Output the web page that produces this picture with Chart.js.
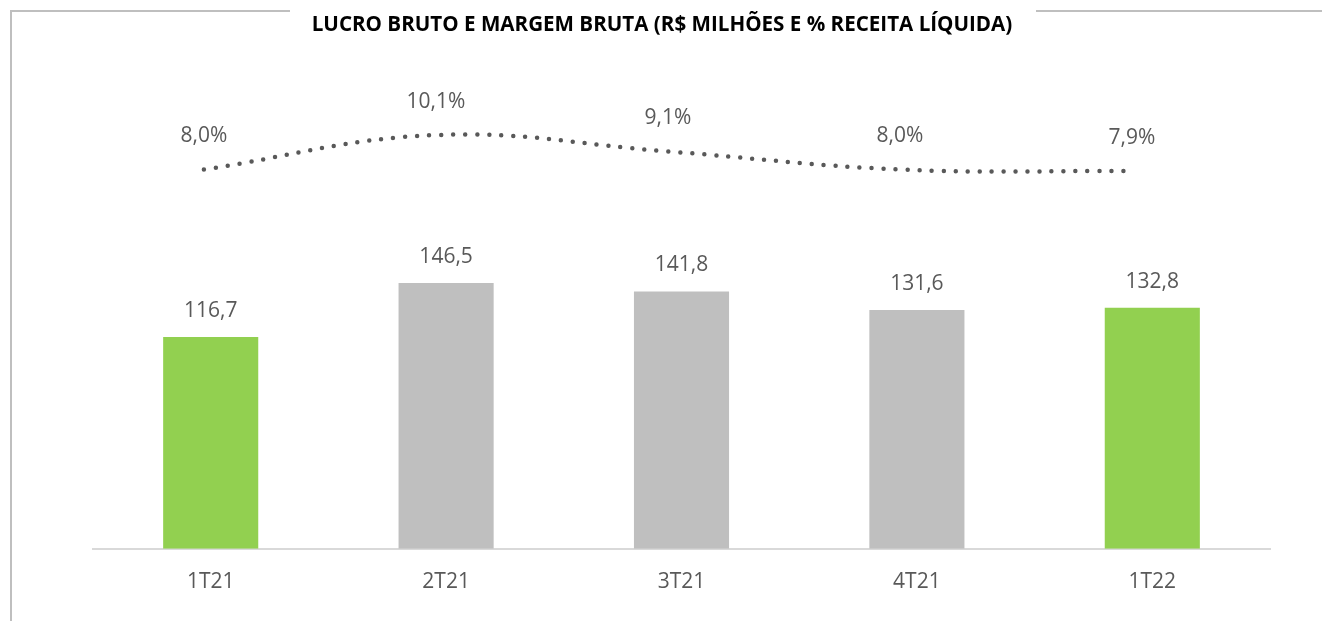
<!DOCTYPE html>
<html>
<head>
<meta charset="utf-8">
<script src="https://cdn.jsdelivr.net/npm/chart.js@4"></script>
<style>
  html, body { margin: 0; padding: 0; background: #fff; }
  #wrap { width: 1322px; height: 621px; }
</style>
</head>
<body>
<div id="wrap"><canvas id="chart" width="1322" height="621"></canvas></div>
<script>
// --- Data ---
const quarters = ['1T21', '2T21', '3T21', '4T21', '1T22']
const grossProfit = [116.7, 146.5, 141.8, 131.6, 132.8]   // R$ milhões
const grossMargin = [8.0, 10.1, 9.1, 8.0, 7.9]            // % receita líquida
const barColors = ['#92D050', '#BFBFBF', '#BFBFBF', '#BFBFBF', '#92D050']
const chartTitle = 'LUCRO BRUTO E MARGEM BRUTA (R$ MILHÕES E % RECEITA LÍQUIDA)'

const TEXT = '#595959'
const FONT = '"Open Sans", "Noto Sans", sans-serif'

const fmt = (v, d) => v.toFixed(d).replace('.', ',')

// frame lines + title (frame is broken where the title sits)
const frameAndTitle = {
  id: 'frameAndTitle',
  beforeDraw(chart) {
    const ctx = chart.ctx
    ctx.save()
    ctx.strokeStyle = '#BFBFBF'
    ctx.lineWidth = 2
    ctx.beginPath()
    ctx.moveTo(11, 621)
    ctx.lineTo(11, 11)
    ctx.lineTo(290, 11)
    ctx.moveTo(1036, 11)
    ctx.lineTo(1322, 11)
    ctx.stroke()

    ctx.fillStyle = '#000'
    ctx.font = 'bold 20.6px ' + FONT
    ctx.textAlign = 'center'
    ctx.textBaseline = 'middle'
    ctx.fillText(chartTitle, 662, 25)
    ctx.restore()
  }
}

// value labels above bars and line points
const valueLabels = {
  id: 'valueLabels',
  afterDatasetsDraw(chart) {
    const ctx = chart.ctx
    ctx.save()
    ctx.fillStyle = TEXT
    ctx.font = '21px ' + FONT
    ctx.textAlign = 'center'
    ctx.textBaseline = 'middle'
    chart.getDatasetMeta(0).data.forEach((bar, i) => {
      ctx.fillText(fmt(grossProfit[i], 1), bar.x, bar.y - 26)
    })
    chart.getDatasetMeta(1).data.forEach((pt, i) => {
      ctx.fillText(fmt(grossMargin[i], 1) + '%', pt.x, pt.y - 33)
    })
    ctx.restore()
  }
}

new Chart(document.getElementById('chart'), {
  type: 'bar',
  data: {
    labels: quarters,
    datasets: [
      {
        type: 'bar',
        data: grossProfit,
        backgroundColor: barColors,
        grouped: false,
        categoryPercentage: 1,
        barPercentage: 0.404,
        xAxisID: 'x',
        yAxisID: 'y',
        order: 2
      },
      {
        type: 'line',
        data: grossMargin.map((v, i) => ({ x: i, y: v })),
        borderColor: '#595959',
        borderWidth: 4.5,
        borderDash: [0, 12],
        borderCapStyle: 'round',
        tension: 0.4,
        pointRadius: 0,
        fill: false,
        xAxisID: 'x2',
        yAxisID: 'y2',
        order: 1
      }
    ]
  },
  options: {
    responsive: false,
    animation: false,
    layout: { padding: { left: 93, right: 52, top: 60, bottom: 5 } },
    plugins: {
      legend: { display: false },
      title: { display: false },
      tooltip: { enabled: false }
    },
    scales: {
      x: {
        type: 'category',
        offset: true,
        grid: { display: false, drawTicks: false },
        border: { color: '#D9D9D9', width: 2 },
        ticks: { color: TEXT, font: { family: FONT, size: 21 }, padding: 21 }
      },
      x2: { type: 'linear', display: false, offset: false, min: -0.478, max: 4.595 },
      y: { display: false, min: 0, max: 269.3 },
      y2: { display: false, min: -15.14, max: 14.68 }
    }
  },
  plugins: [frameAndTitle, valueLabels]
})
</script>
</body>
</html>
